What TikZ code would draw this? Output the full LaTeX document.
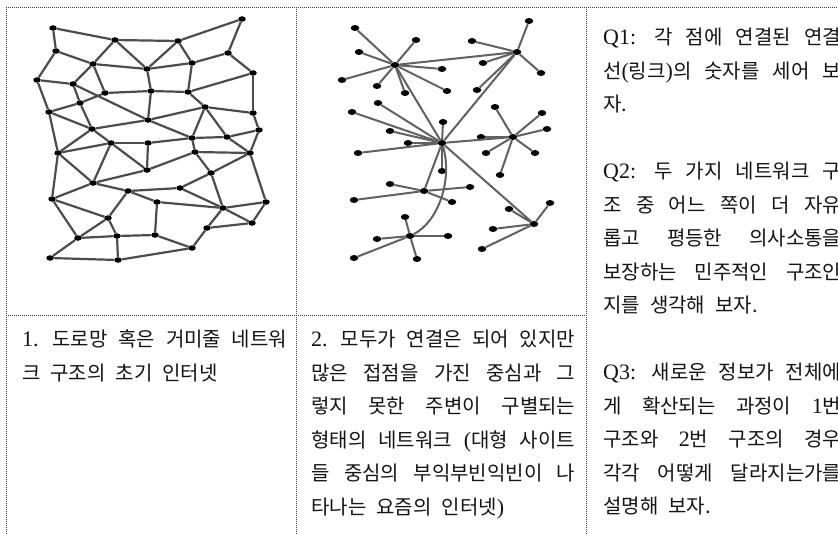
\documentclass[tikz,border=0pt]{standalone}
\usepackage{fontspec}
\setmainfont{Noto Sans CJK KR}
\newfontfamily\lat[Scale=1.1]{Liberation Serif}
\usetikzlibrary{shapes.geometric}
\tikzset{
  frameline/.style={draw=black!75, line width=0.8pt, dash pattern=on 0.8pt off 1.2pt},
  ldot/.style={ellipse, fill=black, draw=none, inner sep=0pt, minimum width=7.5pt, minimum height=5.5pt},
  rdot/.style={ellipse, fill=black, draw=none, inner sep=0pt, minimum width=8.5pt, minimum height=6pt},
  ledge/.style={draw=black!70, line width=2.2pt},
  redge/.style={draw=black!62, line width=2pt},
  txt/.style={anchor=base west, inner sep=0pt, text=black!92,
    font={\fontsize{20}{22}\selectfont\spaceskip=0.5em plus 3em\relax}}
}
\begin{document}
\begin{tikzpicture}[x=1pt,y=-1pt]
\useasboundingbox (0,0) rectangle (838,535);
\clip (0,0) rectangle (838,535);
\fill[white] (0,0) rectangle (838,535);

% table frame
\coordinate (tl) at (6,7);
\coordinate (tr) at (838,7);
\coordinate (bl) at (6,535);
\coordinate (s1t) at (296,7);
\coordinate (s1b) at (296,535);
\coordinate (s2t) at (586,7);
\coordinate (s2b) at (586,535);
\coordinate (hl) at (6,315);
\coordinate (hr) at (586,315);
\draw[frameline] (tl) -- (tr);
\draw[frameline] (tl) -- (bl);
\draw[frameline] (s1t) -- (s1b);
\draw[frameline] (s2t) -- (s2b);
\draw[frameline] (hl) -- (hr);

% ---------- left network (mesh) ----------
\foreach \n/\x/\y in {
 1/53/28, 2/115/40, 3/178/41, 4/242/19, 5/56/51, 6/228/53, 7/93/64, 8/147/69,
 9/192/63, 10/253/73, 11/37/80, 12/73/84, 13/105/93, 14/151/91, 15/188/92,
 16/205/107, 17/80/103, 18/49/112, 19/148/120, 20/253/113, 21/92/129, 22/259/130,
 23/111/143, 24/148/143, 25/192/138, 26/227/137, 27/58/153, 28/195/152, 29/250/153,
 30/147/170, 31/211/173, 32/93/183, 33/128/191, 34/180/188, 35/52/199, 36/157/202,
 37/266/202, 38/223/208, 39/108/218, 40/252/223, 41/207/228, 42/78/238, 43/117/236,
 44/155/235, 45/192/248, 46/50/258, 47/118/260}
  \node[ldot] (l\n) at (\x,\y) {};
\foreach \a/\b in {
 1/2, 2/3, 3/4, 4/6, 1/5, 5/7, 5/11, 2/7, 2/8, 3/8, 3/9, 7/8, 8/9, 9/6, 6/10,
 7/12, 7/13, 8/14, 9/15, 11/12, 11/18, 12/17, 12/19, 13/17, 13/14, 14/15, 15/10,
 15/16, 10/20, 14/19, 17/18, 17/21, 18/21, 16/20, 16/19, 16/25, 16/26, 20/22,
 19/21, 19/25, 22/26,
 21/23, 21/27, 18/27, 27/35, 23/24, 24/25, 25/26, 25/28, 22/29, 26/29, 28/29,
 23/27, 27/32, 23/32, 23/30, 24/30, 28/30, 28/31, 29/31, 31/34, 29/37, 30/32,
 32/35, 32/33, 33/34, 33/36, 33/39, 35/39, 35/42, 39/42, 39/43, 42/43, 42/46,
 46/47, 43/47, 43/44, 44/36, 44/45, 47/45, 45/41, 41/38, 41/40, 38/40, 38/37,
 37/40, 31/38, 34/38, 36/38}
  \draw[ledge] (l\a) -- (l\b);

% ---------- right network (hubs) ----------
\node[rdot] (h1) at (395,65) {};
\node[rdot] (h2) at (517,52) {};
\node[rdot] (h3) at (442,143) {};
\node[rdot] (h4) at (513,137) {};
\node[rdot] (h5) at (424,191) {};
\node[rdot] (h6) at (410,236) {};
\node[rdot] (h7) at (534,224) {};
\foreach \h/\x/\y [count=\i] in {
 1/355/28, 1/416/40, 1/359/52, 1/342/80, 1/377/86, 1/405/93, 1/442/69, 1/447/91,
 2/529/21, 2/472/41, 2/483/63, 2/541/73, 2/477/90,
 3/352/112, 3/378/103, 3/390/131, 3/408/143, 3/443/122, 3/358/153, 3/442/171,
 4/495/107, 4/542/113, 4/547/129, 4/535/153, 4/486/153, 4/500/175, 4/481/137,
 5/390/184, 5/470/187, 5/452/202, 5/354/200,
 6/405/217, 6/377/239, 6/448/236, 6/354/258, 6/417/259,
 7/550/203, 7/509/209, 7/493/229, 7/482/249}
{
  \node[rdot] (r\i) at (\x,\y) {};
  \draw[redge] (r\i) -- (h\h);
}
\draw[redge] (h1) -- (h2);
\draw[redge] (h1) -- (h3);
\draw[redge] (h2) -- (h3);
\draw[redge] (h3) -- (h4);
\draw[redge] (h3) -- (h5);
\draw[redge] (h3) -- (h7);
\draw[redge] (h6) .. controls (438,222) and (453,180) .. (h3);

% ---------- column 1 text ----------
\node[txt] (a1) at (22,346.5) {\makebox[265pt][s]{{\lat 1.} 도로망 혹은 거미줄 네트워}};
\node[txt] (a2) at (22,380) {크 구조의 초기 인터넷};

% ---------- column 2 text ----------
\node[txt] (b1) at (311,346.5) {\makebox[264pt][s]{{\lat 2.} 모두가 연결은 되어 있지만}};
\node[txt] (b2) at (311,380) {\makebox[264pt][s]{많은 접점을 가진 중심과 그}};
\node[txt] (b3) at (311,413.5) {\makebox[264pt][s]{렇지 못한 주변이 구별되는}};
\node[txt] (b4) at (311,447) {\makebox[264pt][s]{형태의 네트워크 {\lat (}대형 사이트}};
\node[txt] (b5) at (311,480.5) {\makebox[264pt][s]{들 중심의 부익부빈익빈이 나}};
\node[txt] (b6) at (311,514) {타나는 요즘의 인터넷{\lat )}};

% ---------- column 3 text ----------
\node[txt] (c1) at (603,44.5) {\makebox[238pt][s]{{\lat Q1:} 각 점에 연결된 연결}};
\node[txt] (c2) at (603,78) {\makebox[238pt][s]{선{\lat (}링크{\lat )}의 숫자를 세어 보}};
\node[txt] (c3) at (603,111.5) {자.};
\node[txt] (c4) at (603,178.5) {\makebox[238pt][s]{{\lat Q2:} 두 가지 네트워크 구}};
\node[txt] (c5) at (603,212) {\makebox[238pt][s]{조 중 어느 쪽이 더 자유}};
\node[txt] (c6) at (603,245.5) {\makebox[238pt][s]{롭고 평등한 의사소통을}};
\node[txt] (c7) at (603,279) {\makebox[238pt][s]{보장하는 민주적인 구조인}};
\node[txt] (c8) at (603,312.5) {지를 생각해 보자.};
\node[txt] (c9) at (603,379.5) {\makebox[238pt][s]{{\lat Q3:} 새로운 정보가 전체에}};
\node[txt] (c10) at (603,413) {\makebox[238pt][s]{게 확산되는 과정이 {\lat 1}번}};
\node[txt] (c11) at (603,446.5) {\makebox[238pt][s]{구조와 {\lat 2}번 구조의 경우}};
\node[txt] (c12) at (603,480) {\makebox[238pt][s]{각각 어떻게 달라지는가를}};
\node[txt] (c13) at (603,513.5) {설명해 보자.};
\end{tikzpicture}
\end{document}
